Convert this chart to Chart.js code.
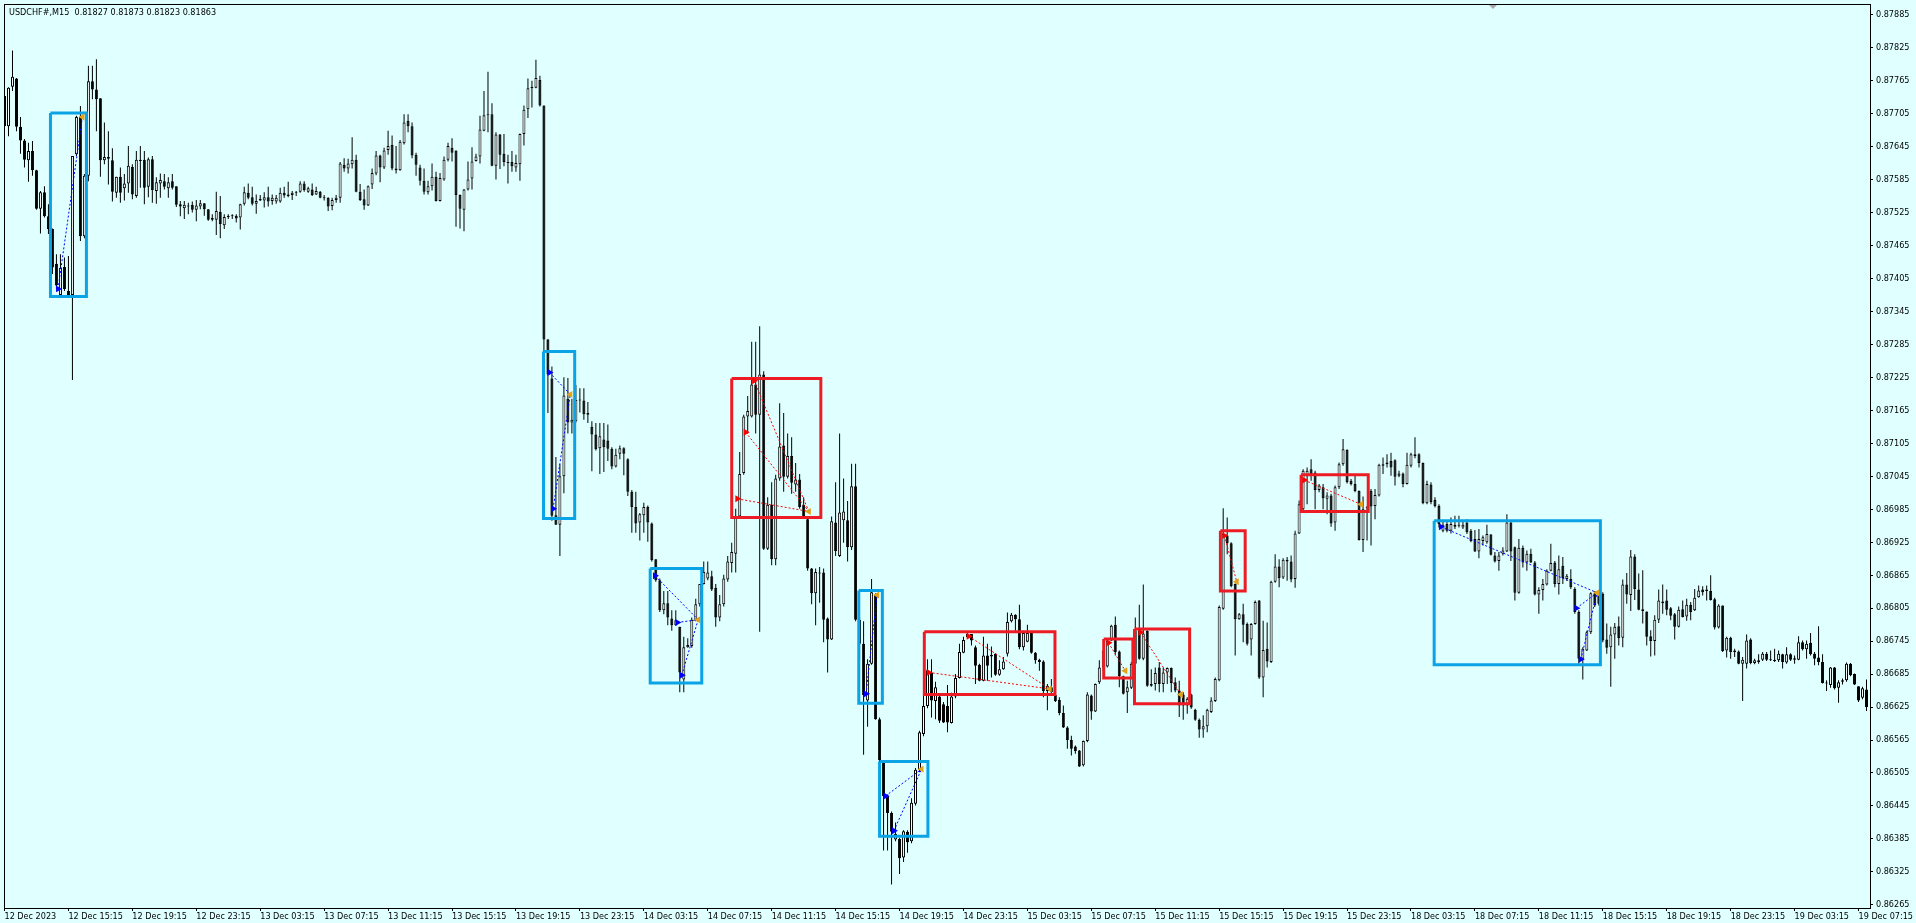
<!DOCTYPE html>
<html>
<head>
<meta charset="utf-8">
<script src="https://cdn.jsdelivr.net/npm/chart.js@4.4.0/dist/chart.umd.min.js"></script>
<style>
  html, body { margin: 0; padding: 0; background: #e0ffff; overflow: hidden; }
  canvas { display: block; }
</style>
</head>
<body>
<canvas id="chart" width="1916" height="923"></canvas>
<script>
// USDCHF#, M15 — prices in 1e-5 units (87737 = 0.87737), one entry per bar
const opens = [
  87737, 87682, 87754, 87769, 87681, 87656, 87620, 87637, 87602, 87532,
  87562, 87518, 87495, 87432, 87375, 87426, 87382, 87375, 87631, 87699,
  87482, 87592, 87764, 87749, 87733, 87620, 87626, 87620, 87561, 87590,
  87569, 87578, 87608, 87555, 87621, 87621, 87572, 87622, 87564, 87578,
  87582, 87569, 87582, 87573, 87540, 87533, 87538, 87539, 87530, 87536,
  87542, 87531, 87515, 87512, 87526, 87502, 87517, 87518, 87519, 87516,
  87541, 87561, 87553, 87541, 87547, 87547, 87553, 87546, 87545, 87545,
  87561, 87558, 87557, 87561, 87563, 87578, 87563, 87567, 87558, 87563,
  87553, 87552, 87537, 87548, 87552, 87612, 87605, 87613, 87621, 87563,
  87549, 87538, 87576, 87596, 87629, 87607, 87639, 87648, 87605, 87602,
  87651, 87692, 87682, 87630, 87607, 87583, 87562, 87573, 87590, 87546,
  87585, 87621, 87643, 87638, 87557, 87530, 87567, 87587, 87619, 87627,
  87674, 87702, 87704, 87610, 87667, 87632, 87617, 87617, 87607, 87613,
  87668, 87713, 87751, 87752, 87766, 87720, 87294, 87223, 86974, 86957,
  87045, 87186, 87143, 87145, 87183, 87183, 87160, 87135, 87121, 87096,
  87112, 87110, 87095, 87063, 87086, 87096, 87076, 87017, 86989, 86961,
  86974, 86989, 86959, 86894, 86856, 86801, 86814, 86786, 86774, 86771,
  86675, 86734, 86736, 86784, 86812, 86849, 86859, 86863, 86842, 86788,
  86812, 86857, 86887, 86904, 86972, 87051, 87154, 87154, 87212, 87157,
  87230, 86913, 86993, 86894, 87041, 87101, 87044, 87082, 87030, 87039,
  86993, 86967, 86877, 86832, 86870, 86870, 86786, 86748, 86961, 86900,
  86965, 86965, 86916, 87027, 86784, 86740, 86637, 86704, 86829, 86603,
  86528, 86463, 86432, 86384, 86385, 86351, 86398, 86381, 86449, 86511,
  86576, 86627, 86688, 86636, 86644, 86630, 86627, 86596, 86644, 86678,
  86724, 86752, 86758, 86734, 86702, 86673, 86719, 86717, 86722, 86684,
  86694, 86722, 86781, 86793, 86785, 86734, 86744, 86760, 86724, 86711,
  86708, 86654, 86661, 86647, 86638, 86614, 86588, 86565, 86553, 86546,
  86519, 86563, 86646, 86617, 86670, 86697, 86699, 86746, 86775, 86726,
  86681, 86652, 86660, 86704, 86765, 86713, 86764, 86667, 86667, 86697,
  86667, 86688, 86696, 86670, 86655, 86648, 86628, 86648, 86620, 86602,
  86584, 86590, 86616, 86636, 86674, 86804, 86937, 86923, 86849, 86785,
  86794, 86776, 86748, 86776, 86819, 86679, 86731, 86707, 86853, 86881,
  86861, 86893, 86890, 86858, 86941, 86985, 87046, 87058, 87052, 87020,
  87025, 87004, 87010, 86961, 87025, 87067, 87093, 87037, 87031, 87018,
  86929, 86988, 87018, 86991, 87010, 87064, 87067, 87073, 87074, 87046,
  87050, 87031, 87064, 87082, 87085, 87069, 86996, 87030, 87002, 86991,
  86946, 86958, 86946, 86953, 86955, 86952, 86961, 86946, 86931, 86908,
  86927, 86925, 86939, 86901, 86891, 86904, 86908, 86961, 86916, 86833,
  86915, 86888, 86904, 86888, 86830, 86838, 86848, 86873, 86888, 86849,
  86882, 86858, 86858, 86840, 86798, 86713, 86728, 86761, 86832, 86831,
  86831, 86748, 86734, 86757, 86772, 86751, 86848, 86829, 86899, 86839,
  86803, 86799, 86754, 86745, 86784, 86814, 86819, 86805, 86794, 86771,
  86803, 86790, 86811, 86801, 86825, 86839, 86839, 86836, 86821, 86770,
  86810, 86728, 86751, 86728, 86726, 86704, 86704, 86748, 86705, 86707,
  86711, 86722, 86712, 86711, 86710, 86721, 86706, 86721, 86714, 86711,
  86743, 86730, 86742, 86722, 86715, 86707, 86669, 86665, 86697, 86660,
  86671, 86674, 86704, 86685, 86663, 86642, 86657
];
const highs = [
  87740, 87753, 87820, 87770, 87699, 87659, 87652, 87655, 87603, 87564,
  87573, 87540, 87496, 87449, 87449, 87443, 87446, 87628, 87701, 87719,
  87595, 87792, 87792, 87804, 87733, 87689, 87673, 87642, 87590, 87607,
  87595, 87646, 87613, 87637, 87646, 87637, 87625, 87628, 87589, 87596,
  87595, 87589, 87595, 87573, 87546, 87546, 87543, 87545, 87548, 87548,
  87542, 87531, 87522, 87563, 87555, 87522, 87522, 87522, 87522, 87541,
  87572, 87578, 87572, 87558, 87557, 87562, 87572, 87558, 87557, 87570,
  87572, 87581, 87564, 87564, 87582, 87582, 87572, 87578, 87572, 87564,
  87557, 87553, 87552, 87557, 87617, 87624, 87623, 87662, 87630, 87577,
  87567, 87574, 87605, 87637, 87630, 87643, 87674, 87665, 87646, 87657,
  87704, 87704, 87689, 87634, 87612, 87605, 87583, 87614, 87599, 87597,
  87627, 87652, 87660, 87638, 87558, 87568, 87618, 87644, 87632, 87701,
  87746, 87781, 87724, 87671, 87668, 87668, 87630, 87637, 87630, 87669,
  87720, 87769, 87765, 87803, 87774, 87720, 87295, 87245, 87080, 87067,
  87225, 87224, 87186, 87211, 87205, 87205, 87180, 87145, 87142, 87142,
  87142, 87139, 87098, 87095, 87101, 87098, 87078, 87020, 87017, 86978,
  86997, 86992, 86961, 86894, 86859, 86836, 86836, 86801, 86801, 86771,
  86753, 86750, 86788, 86822, 86849, 86890, 86890, 86873, 86849, 86829,
  86866, 86900, 86924, 86986, 87089, 87157, 87191, 87290, 87290, 87318,
  87236, 87007, 87034, 87048, 87178, 87160, 87123, 87116, 87069, 87049,
  87007, 86969, 86878, 86877, 86880, 86877, 86788, 86972, 87034, 87123,
  87041, 87000, 87068, 87068, 86788, 86781, 86712, 86858, 86832, 86606,
  86528, 86466, 86435, 86415, 86387, 86401, 86401, 86459, 86514, 86582,
  86651, 86712, 86712, 86671, 86647, 86634, 86665, 86651, 86685, 86740,
  86753, 86761, 86758, 86737, 86704, 86753, 86740, 86735, 86723, 86710,
  86716, 86797, 86796, 86794, 86811, 86764, 86775, 86761, 86725, 86713,
  86710, 86667, 86676, 86655, 86643, 86628, 86590, 86573, 86555, 86547,
  86564, 86652, 86648, 86668, 86710, 86728, 86749, 86775, 86790, 86728,
  86682, 86673, 86707, 86788, 86811, 86848, 86765, 86694, 86697, 86707,
  86697, 86697, 86697, 86679, 86673, 86652, 86643, 86649, 86622, 86604,
  86610, 86622, 86643, 86679, 86810, 86987, 86970, 86925, 86850, 86796,
  86813, 86779, 86778, 86819, 86820, 86782, 86779, 86855, 86903, 86894,
  86896, 86898, 86901, 86946, 87001, 87058, 87061, 87076, 87055, 87031,
  87031, 87016, 87013, 87028, 87070, 87113, 87094, 87040, 87046, 87019,
  87008, 86991, 87022, 87022, 87068, 87079, 87085, 87088, 87076, 87055,
  87052, 87088, 87088, 87116, 87087, 87070, 87037, 87034, 87007, 86994,
  86964, 86964, 86970, 86973, 86973, 86964, 86967, 86949, 86947, 86949,
  86937, 86957, 86940, 86907, 86907, 86916, 86976, 86964, 86917, 86931,
  86919, 86910, 86913, 86891, 86843, 86858, 86876, 86922, 86891, 86901,
  86898, 86867, 86876, 86843, 86801, 86734, 86764, 86834, 86836, 86834,
  86834, 86777, 86771, 86778, 86790, 86857, 86869, 86911, 86903, 86868,
  86874, 86799, 86765, 86792, 86839, 86848, 86839, 86807, 86796, 86808,
  86819, 86822, 86816, 86840, 86846, 86845, 86846, 86865, 86824, 86812,
  86810, 86753, 86753, 86731, 86728, 86716, 86757, 86750, 86713, 86721,
  86725, 86725, 86728, 86731, 86728, 86722, 86734, 86723, 86719, 86754,
  86746, 86746, 86760, 86725, 86772, 86721, 86674, 86698, 86698, 86674,
  86677, 86706, 86705, 86686, 86663, 86662, 86675
];
const lows = [
  87667, 87664, 87746, 87673, 87632, 87607, 87581, 87592, 87530, 87487,
  87516, 87486, 87413, 87386, 87373, 87382, 87373, 87220, 87628, 87473,
  87478, 87582, 87731, 87673, 87590, 87613, 87576, 87545, 87552, 87543,
  87547, 87561, 87549, 87552, 87570, 87540, 87553, 87543, 87541, 87552,
  87567, 87552, 87567, 87535, 87518, 87513, 87522, 87525, 87509, 87531,
  87519, 87510, 87509, 87484, 87478, 87495, 87513, 87513, 87507, 87494,
  87538, 87549, 87538, 87523, 87546, 87534, 87536, 87539, 87541, 87543,
  87552, 87553, 87548, 87555, 87561, 87563, 87561, 87555, 87557, 87551,
  87547, 87528, 87529, 87543, 87543, 87599, 87596, 87605, 87562, 87546,
  87530, 87537, 87568, 87593, 87580, 87604, 87630, 87602, 87596, 87601,
  87649, 87671, 87624, 87592, 87574, 87558, 87558, 87565, 87545, 87545,
  87583, 87618, 87618, 87499, 87496, 87491, 87565, 87567, 87618, 87614,
  87673, 87671, 87609, 87585, 87604, 87609, 87578, 87599, 87599, 87583,
  87647, 87697, 87716, 87751, 87718, 87267, 87160, 86964, 86957, 86900,
  87014, 87123, 87123, 87143, 87161, 87148, 87142, 87054, 87092, 87049,
  87053, 87073, 87058, 87061, 87076, 87047, 87009, 86942, 86942, 86928,
  86942, 86926, 86890, 86853, 86798, 86794, 86774, 86764, 86773, 86652,
  86652, 86733, 86733, 86781, 86808, 86848, 86856, 86836, 86771, 86781,
  86808, 86853, 86870, 86870, 86969, 87048, 87123, 87152, 87123, 86762,
  86911, 86911, 86883, 86883, 87037, 87017, 87041, 87013, 87017, 86986,
  86969, 86873, 86812, 86774, 86815, 86743, 86688, 86747, 86900, 86898,
  86924, 86890, 86911, 86781, 86712, 86538, 86589, 86702, 86602, 86524,
  86364, 86364, 86302, 86381, 86321, 86343, 86360, 86377, 86446, 86507,
  86572, 86623, 86606, 86603, 86596, 86596, 86579, 86595, 86641, 86677,
  86723, 86749, 86737, 86667, 86672, 86672, 86673, 86679, 86682, 86682,
  86693, 86717, 86779, 86764, 86730, 86728, 86743, 86722, 86704, 86691,
  86643, 86619, 86649, 86634, 86610, 86587, 86549, 86537, 86540, 86516,
  86517, 86561, 86602, 86616, 86667, 86691, 86697, 86745, 86719, 86661,
  86648, 86614, 86658, 86700, 86711, 86710, 86662, 86662, 86655, 86652,
  86652, 86667, 86652, 86652, 86607, 86602, 86613, 86622, 86600, 86569,
  86569, 86579, 86614, 86634, 86672, 86802, 86903, 86843, 86719, 86784,
  86743, 86737, 86719, 86775, 86676, 86643, 86697, 86705, 86851, 86843,
  86858, 86855, 86852, 86842, 86940, 86982, 86994, 87037, 86985, 87016,
  86985, 86976, 86953, 86946, 87022, 87064, 87032, 87028, 87016, 86928,
  86907, 86928, 86919, 86967, 87008, 87049, 87061, 87046, 87028, 87043,
  87025, 87030, 87061, 87078, 87061, 86994, 86994, 86994, 86988, 86952,
  86943, 86943, 86941, 86949, 86952, 86949, 86940, 86925, 86907, 86896,
  86919, 86922, 86901, 86888, 86873, 86901, 86907, 86891, 86819, 86831,
  86879, 86873, 86887, 86828, 86795, 86819, 86846, 86872, 86843, 86830,
  86849, 86855, 86840, 86795, 86704, 86675, 86727, 86758, 86807, 86810,
  86743, 86722, 86662, 86713, 86737, 86734, 86813, 86800, 86820, 86801,
  86777, 86737, 86717, 86719, 86778, 86795, 86792, 86783, 86748, 86770,
  86788, 86782, 86783, 86800, 86824, 86828, 86819, 86819, 86766, 86768,
  86725, 86715, 86713, 86716, 86703, 86636, 86695, 86703, 86703, 86704,
  86709, 86709, 86709, 86707, 86707, 86695, 86704, 86709, 86704, 86710,
  86728, 86713, 86719, 86701, 86701, 86668, 86654, 86660, 86657, 86633,
  86666, 86671, 86681, 86665, 86634, 86639, 86618
];
const closes = [
  87682, 87752, 87772, 87681, 87656, 87621, 87637, 87602, 87532, 87562,
  87518, 87495, 87425, 87392, 87424, 87386, 87375, 87628, 87699, 87482,
  87592, 87764, 87749, 87731, 87620, 87626, 87623, 87563, 87590, 87561,
  87578, 87610, 87558, 87621, 87619, 87570, 87622, 87566, 87580, 87584,
  87572, 87580, 87570, 87539, 87536, 87539, 87536, 87530, 87538, 87542,
  87531, 87512, 87512, 87528, 87504, 87517, 87519, 87519, 87514, 87540,
  87562, 87552, 87541, 87546, 87550, 87553, 87545, 87552, 87552, 87561,
  87556, 87555, 87561, 87562, 87578, 87566, 87569, 87557, 87564, 87552,
  87551, 87536, 87548, 87552, 87614, 87605, 87614, 87621, 87563, 87548,
  87538, 87573, 87597, 87629, 87607, 87638, 87646, 87605, 87602, 87654,
  87689, 87682, 87629, 87612, 87583, 87563, 87573, 87590, 87546, 87588,
  87621, 87646, 87634, 87557, 87532, 87567, 87585, 87618, 87627, 87676,
  87702, 87704, 87610, 87667, 87630, 87617, 87615, 87609, 87615, 87668,
  87712, 87751, 87754, 87770, 87720, 87294, 87230, 86973, 86957, 87045,
  87192, 87143, 87148, 87184, 87183, 87158, 87157, 87121, 87094, 87118,
  87098, 87095, 87063, 87084, 87096, 87086, 87017, 86989, 86959, 86976,
  86989, 86961, 86892, 86856, 86801, 86814, 86788, 86774, 86783, 86688,
  86734, 86738, 86784, 86812, 86849, 86871, 86870, 86839, 86788, 86812,
  86859, 86890, 86907, 86972, 87049, 87154, 87164, 87212, 87157, 87230,
  86913, 86993, 86894, 87041, 87099, 87044, 87082, 87033, 87039, 86989,
  86972, 86877, 86832, 86871, 86868, 86784, 86748, 86963, 86909, 86979,
  86981, 86916, 87027, 86784, 86740, 86647, 86704, 86834, 86603, 86528,
  86463, 86432, 86398, 86394, 86350, 86399, 86379, 86451, 86511, 86579,
  86627, 86692, 86637, 86661, 86600, 86597, 86597, 86644, 86678, 86725,
  86747, 86758, 86746, 86700, 86673, 86719, 86700, 86720, 86684, 86694,
  86708, 86780, 86793, 86785, 86734, 86760, 86760, 86724, 86710, 86707,
  86654, 86664, 86652, 86636, 86614, 86588, 86565, 86549, 86545, 86517,
  86563, 86648, 86617, 86667, 86697, 86728, 86746, 86773, 86725, 86681,
  86649, 86661, 86704, 86765, 86713, 86759, 86664, 86664, 86687, 86667,
  86688, 86696, 86669, 86655, 86628, 86628, 86640, 86624, 86602, 86584,
  86590, 86620, 86637, 86676, 86807, 86940, 86923, 86845, 86785, 86794,
  86775, 86740, 86776, 86816, 86679, 86729, 86708, 86853, 86881, 86860,
  86893, 86890, 86857, 86941, 86994, 87055, 87055, 87049, 87020, 87028,
  87005, 87010, 86959, 87025, 87067, 87094, 87034, 87031, 87018, 86929,
  86985, 86987, 86990, 87011, 87066, 87067, 87070, 87061, 87044, 87050,
  87031, 87066, 87085, 87085, 87069, 86996, 87031, 86998, 86991, 86958,
  86957, 86946, 86958, 86957, 86957, 86957, 86943, 86927, 86908, 86931,
  86934, 86940, 86902, 86890, 86901, 86910, 86961, 86908, 86833, 86915,
  86888, 86904, 86888, 86830, 86838, 86849, 86873, 86887, 86849, 86876,
  86860, 86864, 86843, 86798, 86713, 86731, 86761, 86832, 86810, 86813,
  86746, 86733, 86757, 86771, 86750, 86848, 86830, 86899, 86840, 86802,
  86800, 86753, 86745, 86784, 86819, 86817, 86802, 86791, 86771, 86802,
  86789, 86811, 86798, 86824, 86837, 86834, 86836, 86820, 86770, 86810,
  86727, 86751, 86725, 86725, 86704, 86711, 86746, 86705, 86710, 86710,
  86722, 86711, 86710, 86709, 86722, 86707, 86721, 86711, 86711, 86743,
  86730, 86740, 86721, 86713, 86707, 86669, 86668, 86697, 86659, 86670,
  86674, 86704, 86683, 86666, 86637, 86659, 86625
];

// time axis: a label every 16 bars
const timeTickBars = [0, 16, 32, 48, 64, 80, 96, 112, 128, 144, 160, 176, 192, 208, 224,
  240, 256, 272, 288, 304, 320, 336, 352, 368, 384, 400, 416, 432, 448, 464];
const timeLabels = ["12 Dec 2023", "12 Dec 15:15", "12 Dec 19:15", "12 Dec 23:15",
  "13 Dec 03:15", "13 Dec 07:15", "13 Dec 11:15", "13 Dec 15:15", "13 Dec 19:15",
  "13 Dec 23:15", "14 Dec 03:15", "14 Dec 07:15", "14 Dec 11:15", "14 Dec 15:15",
  "14 Dec 19:15", "14 Dec 23:15", "15 Dec 03:15", "15 Dec 07:15", "15 Dec 11:15",
  "15 Dec 15:15", "15 Dec 19:15", "15 Dec 23:15", "18 Dec 03:15", "18 Dec 07:15",
  "18 Dec 11:15", "18 Dec 15:15", "18 Dec 19:15", "18 Dec 23:15", "19 Dec 03:15",
  "19 Dec 07:15"];
const priceTicks = [86265, 86325, 86385, 86445, 86505, 86565, 86625, 86685, 86745,
  86805, 86865, 86925, 86985, 87045, 87105, 87165, 87225, 87285, 87345, 87405,
  87465, 87525, 87585, 87645, 87705, 87765, 87825, 87885];

// pattern boxes drawn on the chart
const boxSide = ["buy", "buy", "buy", "sell", "buy", "buy", "sell", "sell", "sell", "sell", "sell", "buy"];
const boxFromBar = [11.5, 134.9, 161.6, 182, 213.8, 219, 230.2, 275.1, 282.8, 304.3, 324.5, 357.8];
const boxToBar = [20.5, 142.7, 174.5, 204.3, 219.7, 231.1, 262.9, 282.4, 296.6, 310.5, 341.3, 399.4];
const boxHigh = [87706, 87272, 86877, 87223, 86837, 86526, 86762, 86749, 86767, 86946, 87048, 86964];
const boxLow = [87372, 86968, 86669, 86970, 86632, 86390, 86648, 86678, 86631, 86836, 86981, 86702];
const targetBar = [19.5, 141.6, 173.6, 201.3, 218.4, 229.5, 261.6, 280.5, 294.4, 308.4, 339.5, 398.6];
const targetPrice = [87699, 87194, 86784, 86981, 86829, 86512, 86658, 86691, 86648, 86853, 86994, 86833];

// pivot arrows, each joined to its box's target
const entryBox = [0, 1, 1, 2, 2, 2, 3, 3, 3, 4, 5, 5, 6, 6, 7, 8, 9, 10, 11, 11, 11];
const entryBar = [13.4, 136.4, 137.3, 162.8, 168.4, 169.5, 183.4, 185.5, 187.6, 215.6, 220.5,
  222.6, 231.3, 241.3, 276.3, 284.3, 305.3, 325.3, 359.5, 393.4, 394.5];
const entryPrice = [87386, 87234, 86986, 86864, 86779, 86683, 87004, 87125, 87219, 86649, 86463,
  86400, 86688, 86754, 86742, 86761, 86937, 87038, 86953, 86805, 86712];

const titleText = "USDCHF#,M15  0.81827 0.81873 0.81823 0.81863";

const FONT = "'DejaVu Sans Condensed', 'Liberation Sans', sans-serif";
const BOX_COLORS = { buy: "#0aa3e6", sell: "#ed1c24" };
const LINE_COLORS = { buy: "#0000ff", sell: "#ff0000" };

const price = v => v / 1e5;

const wickData = lows.map((l, i) => ({ x: i, y: [price(l), price(highs[i])] }));
const bodyData = opens.map((o, i) => ({ x: i, y: [price(o), price(closes[i])] }));
const bodyFill = opens.map((o, i) => (closes[i] >= o ? "#ffffff" : "#000000"));

const datasets = [
  {
    type: "bar", data: wickData, backgroundColor: "#000000", borderWidth: 0,
    grouped: false, barPercentage: 1, categoryPercentage: 1, maxBarThickness: 1,
    inflateAmount: 0, order: 5
  },
  {
    type: "bar", data: bodyData, backgroundColor: bodyFill, borderColor: "#000000",
    borderWidth: 1, borderSkipped: false, grouped: false, barPercentage: 1,
    categoryPercentage: 1, maxBarThickness: 3, minBarLength: 1, inflateAmount: 0, order: 4
  }
];

boxFromBar.forEach((from, k) => {
  const to = boxToBar[k], hi = price(boxHigh[k]), lo = price(boxLow[k]);
  datasets.push({
    type: "line",
    data: [{ x: from, y: hi }, { x: to, y: hi }, { x: to, y: lo }, { x: from, y: lo }, { x: from, y: hi }],
    borderColor: BOX_COLORS[boxSide[k]], borderWidth: 3, borderJoinStyle: "miter",
    pointRadius: 0, fill: false, tension: 0, order: 3
  });
});

entryBar.forEach((bar, k) => {
  const box = entryBox[k];
  datasets.push({
    type: "line",
    data: [{ x: bar, y: price(entryPrice[k]) }, { x: targetBar[box], y: price(targetPrice[box]) }],
    borderColor: LINE_COLORS[boxSide[box]], borderWidth: 1, borderDash: [2, 2],
    pointRadius: 0, fill: false, tension: 0, order: 2
  });
});

datasets.push({
  type: "line", showLine: false,
  data: entryBar.map((bar, k) => ({ x: bar, y: price(entryPrice[k]) })),
  pointStyle: "triangle", rotation: 90, pointRadius: 4, pointBorderWidth: 0,
  pointBackgroundColor: entryBox.map(b => LINE_COLORS[boxSide[b]]), order: 1
});
datasets.push({
  type: "line", showLine: false,
  data: targetBar.map((bar, k) => ({ x: bar, y: price(targetPrice[k]) })),
  pointStyle: "triangle", rotation: -90, pointRadius: 4, pointBorderWidth: 0,
  pointBackgroundColor: "#e3a21a", order: 1
});

const terminal = {
  id: "terminal",
  beforeDraw(chart) {
    const c = chart.ctx;
    c.save();
    c.fillStyle = "#e0ffff";
    c.fillRect(0, 0, chart.width, chart.height);
    c.restore();
  },
  afterDraw(chart) {
    const c = chart.ctx, a = chart.chartArea;
    c.save();
    c.strokeStyle = "#000000";
    c.lineWidth = 1;
    c.strokeRect(a.left + 0.5, a.top + 0.5, a.right - a.left, a.bottom - a.top);
    c.fillStyle = "#000000";
    c.font = "9px " + FONT;
    c.textBaseline = "alphabetic";
    c.fillText(titleText, a.left + 5, a.top + 11);
    // chart shift marker
    c.fillStyle = "#a8a8a8";
    c.beginPath();
    c.moveTo(1489, a.top + 1);
    c.lineTo(1497, a.top + 1);
    c.lineTo(1493, a.top + 5);
    c.closePath();
    c.fill();
    c.restore();
  }
};

new Chart(document.getElementById("chart"), {
  type: "bar",
  data: { datasets },
  plugins: [terminal],
  options: {
    responsive: false,
    animation: false,
    devicePixelRatio: 1,
    events: [],
    layout: { padding: { left: 2, top: 3, right: 0, bottom: 0 } },
    plugins: { legend: { display: false }, tooltip: { enabled: false } },
    scales: {
      x: {
        type: "linear", position: "bottom", min: -0.125, max: 466.875, offset: false,
        afterBuildTicks: s => { s.ticks = timeTickBars.map(v => ({ value: v })); },
        afterFit: s => { s.height = 15; s.paddingLeft = 0; s.paddingRight = 0; },
        ticks: {
          autoSkip: false, maxRotation: 0, minRotation: 0, align: "start", padding: 0,
          color: "#000000", font: { family: FONT, size: 9 },
          callback: (v, i) => timeLabels[i]
        },
        grid: { offset: false, drawOnChartArea: false, drawTicks: true, tickLength: 3, color: "#000000" },
        border: { display: true, color: "#000000" }
      },
      y: {
        type: "linear", position: "right", min: 0.862593, max: 0.879045,
        afterBuildTicks: s => { s.ticks = priceTicks.map(v => ({ value: price(v) })); },
        afterFit: s => { s.width = 46; s.paddingTop = 0; s.paddingBottom = 0; },
        ticks: {
          autoSkip: false, padding: 3, color: "#000000", font: { family: FONT, size: 9 },
          callback: v => v.toFixed(5)
        },
        grid: { drawOnChartArea: false, drawTicks: true, tickLength: 3, color: "#000000" },
        border: { display: true, color: "#000000" }
      }
    }
  }
});
</script>
</body>
</html>
